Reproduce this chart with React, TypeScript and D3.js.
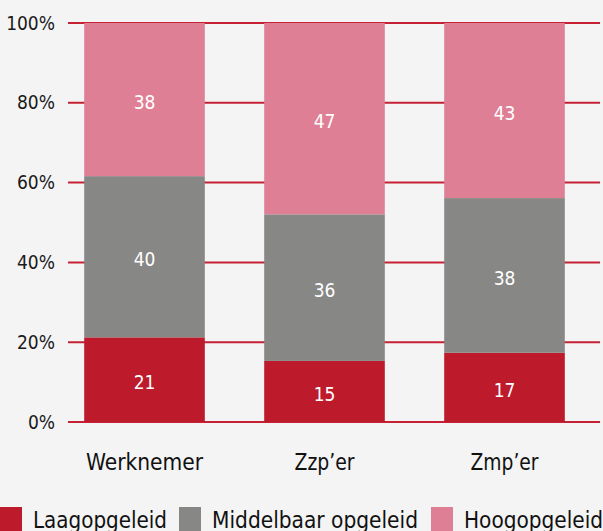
import React, { useEffect, useRef } from 'react';
import * as d3 from 'd3';

const categories = ['Werknemer', 'Zzp\u2019er', 'Zmp\u2019er'];
const seriesNames = ['Laagopgeleid', 'Middelbaar opgeleid', 'Hoogopgeleid'];
const laag = [21, 15, 17];
const middelbaar = [40, 36, 38];
const hoog = [38, 47, 43];
const tickValues = [0, 20, 40, 60, 80, 100];
const colors = ['#bd1a2b', '#878785', '#df7f96'];

const FONT = '"DejaVu Sans Condensed", "Liberation Sans Narrow", "Open Sans", sans-serif';

// widths of the texts in the reference, used to squeeze the wider fallback font
const catWidths = [117, 60, 68];
const legendWidths = [134, 206, 139];

const App = () => {
  const ref = useRef<SVGSVGElement | null>(null);

  useEffect(() => {
    const svg = d3.select(ref.current);
    svg.selectAll('*').remove();

    const width = 603;
    const height = 531;

    svg.append('rect').attr('width', width).attr('height', height).attr('fill', '#f4f4f4');

    const rows = categories.map((c, i) => {
      const total = laag[i] + middelbaar[i] + hoog[i];
      return { cat: c, vals: [laag[i], middelbaar[i], hoog[i]], total };
    });

    const y = d3.scaleLinear().domain([0, 100]).range([422, 23]);
    const x = d3.scaleBand().domain(categories).range([54.5, 594.5]).paddingInner(0.33).paddingOuter(0.165);

    // gridlines
    svg.append('g')
      .selectAll('line')
      .data(tickValues)
      .enter().append('line')
      .attr('x1', 68)
      .attr('x2', 600)
      .attr('y1', d => y(d))
      .attr('y2', d => y(d))
      .attr('stroke', '#c52034')
      .attr('stroke-width', 2);

    svg.append('g')
      .selectAll('text')
      .data(tickValues)
      .enter().append('text')
      .attr('x', 55)
      .attr('y', d => y(d))
      .attr('dy', '0.35em')
      .attr('text-anchor', 'end')
      .attr('font-family', FONT)
      .attr('font-size', 19)
      .attr('fill', '#1a1a1a')
      .text(d => `${d}%`);

    // stacked bars, normalised to 100%
    rows.forEach(r => {
      let acc = 0;
      r.vals.forEach((v, j) => {
        const p0 = (acc / r.total) * 100;
        acc += v;
        const p1 = (acc / r.total) * 100;
        const x0 = x(r.cat) as number;
        svg.append('rect')
          .attr('x', x0)
          .attr('y', y(p1))
          .attr('width', x.bandwidth())
          .attr('height', y(p0) - y(p1))
          .attr('fill', colors[j]);
        svg.append('text')
          .attr('x', x0 + x.bandwidth() / 2)
          .attr('y', (y(p0) + y(p1)) / 2 + 3)
          .attr('dy', '0.35em')
          .attr('text-anchor', 'middle')
          .attr('font-family', FONT)
          .attr('font-size', 19)
          .attr('fill', '#ffffff')
          .text(v);
      });
    });

    // category labels
    svg.append('g')
      .selectAll('text')
      .data(categories)
      .enter().append('text')
      .attr('x', (d, i) => (x(d) as number) + x.bandwidth() / 2 - catWidths[i] / 2)
      .attr('y', 470)
      .attr('textLength', (d, i) => catWidths[i])
      .attr('lengthAdjust', 'spacingAndGlyphs')
      .attr('font-family', FONT)
      .attr('font-size', 23)
      .attr('fill', '#111')
      .text(d => d);

    // legend
    const legendX = [0, 179, 431];
    const leg = svg.append('g');
    seriesNames.forEach((s, i) => {
      leg.append('rect')
        .attr('x', legendX[i])
        .attr('y', 507)
        .attr('width', 22)
        .attr('height', 24)
        .attr('fill', colors[i]);
      leg.append('text')
        .attr('x', legendX[i] + 33)
        .attr('y', 528)
        .attr('textLength', legendWidths[i])
        .attr('lengthAdjust', 'spacingAndGlyphs')
        .attr('font-family', FONT)
        .attr('font-size', 23)
        .attr('fill', '#111')
        .text(s);
    });
  }, []);

  return (
    <svg ref={ref} width={603} height={531} style={{ position: 'absolute', left: 0, top: 0 }} />
  );
};

export default App;
